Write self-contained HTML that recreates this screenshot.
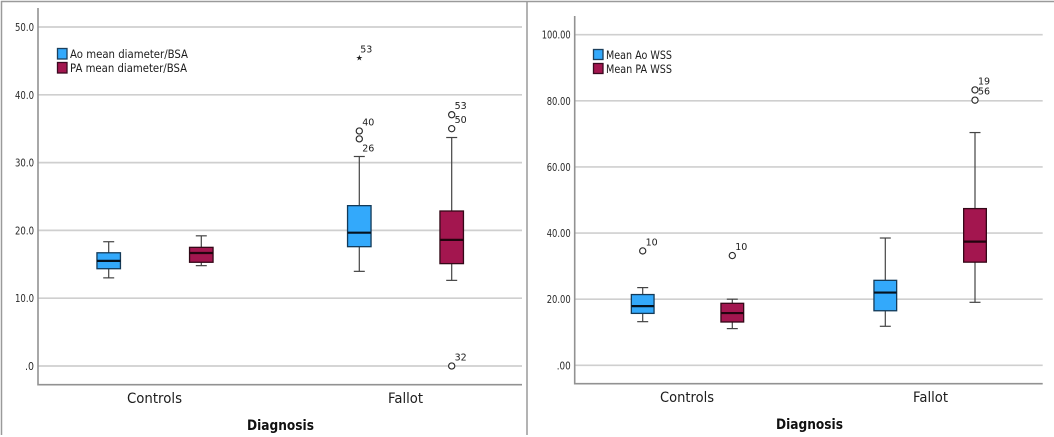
<!DOCTYPE html>
<html lang="en">
<head>
<meta charset="utf-8">
<title>Boxplots by diagnosis</title>
<style>
html,body{margin:0;padding:0;background:#fff;}
svg{display:block;font-family:"DejaVu Sans","Liberation Sans",sans-serif;filter:blur(0.3px);}
.tick{font-size:10.5px;fill:#2a2a2a;text-anchor:end;}
.cat{font-size:14px;fill:#1c1c1c;text-anchor:middle;}
.title{font-size:14px;font-weight:bold;fill:#111;text-anchor:middle;}
.leg{font-size:11.5px;fill:#1c1c1c;}
.out{font-size:9.5px;fill:#1c1c1c;text-anchor:middle;}
</style>
</head>
<body>
<svg id="root" width="1054" height="437" viewBox="0 0 1054 437" xmlns="http://www.w3.org/2000/svg">
  <rect width="1054" height="437" fill="#fff"/>
  <g stroke="#9a9a9a" stroke-width="1.5" fill="none">
    <path d="M1.5 435V1.5H1054"/>
    <path d="M527 1.5V435"/>
  </g>

  <g id="left-chart"></g>
  <g id="right-chart"></g>

  <g>
    <rect x="57.5" y="48.5" width="9.5" height="10.5" fill="#33a9fb" stroke="#1c3f5c" stroke-width="1.3"/>
    <text class="leg" x="70" y="58" textLength="118" lengthAdjust="spacingAndGlyphs">Ao mean diameter/BSA</text>
    <rect x="57.5" y="62.5" width="9.5" height="10.5" fill="#a3164f" stroke="#3a0a20" stroke-width="1.3"/>
    <text class="leg" x="70" y="72" textLength="117" lengthAdjust="spacingAndGlyphs">PA mean diameter/BSA</text>
  </g>
  <g>
    <rect x="593.5" y="49.5" width="9.5" height="10" fill="#33a9fb" stroke="#1c3f5c" stroke-width="1.3"/>
    <text class="leg" x="606" y="59" textLength="66" lengthAdjust="spacingAndGlyphs">Mean Ao WSS</text>
    <rect x="593.5" y="63.5" width="9.5" height="10" fill="#a3164f" stroke="#3a0a20" stroke-width="1.3"/>
    <text class="leg" x="606" y="73" textLength="66" lengthAdjust="spacingAndGlyphs">Mean PA WSS</text>
  </g>

  <text class="title" x="280.5" y="430" textLength="67" lengthAdjust="spacingAndGlyphs">Diagnosis</text>
  <text class="title" x="809.5" y="429" textLength="67" lengthAdjust="spacingAndGlyphs">Diagnosis</text>
</svg>
<script>
// Left chart: [lower whisker, Q1, median, Q3, upper whisker]
const diameterTicks = [0, 10, 20, 30, 40, 50];
const diameterTickLabels = ['.0', '10.0', '20.0', '30.0', '40.0', '50.0'];
const diameterCategories = ['Controls', 'Fallot'];
const diameterAoControls = [13.0, 14.35, 15.5, 16.7, 18.33];
const diameterPaControls = [14.8, 15.3, 16.67, 17.5, 19.2];
const diameterAoFallot = [13.96, 17.6, 19.66, 23.65, 30.9];
const diameterPaFallot = [12.63, 15.1, 18.6, 22.86, 33.7];
const diameterAoFallotOutliers = [34.66, 33.5];
const diameterAoFallotOutlierIds = ['40', '26'];
const diameterAoFallotExtremes = [45.6];
const diameterAoFallotExtremeIds = ['53'];
const diameterPaFallotOutliers = [37.06, 35.0, 0.0];
const diameterPaFallotOutlierIds = ['53', '50', '32'];

// Right chart: [lower whisker, Q1, median, Q3, upper whisker]
const wssTicks = [0, 20, 40, 60, 80, 100];
const wssTickLabels = ['.00', '20.00', '40.00', '60.00', '80.00', '100.00'];
const wssCategories = ['Controls', 'Fallot'];
const wssAoControls = [13.2, 15.7, 17.9, 21.4, 23.5];
const wssPaControls = [11.1, 13.1, 15.8, 18.75, 20.0];
const wssAoFallot = [11.8, 16.5, 22.0, 25.7, 38.5];
const wssPaFallot = [19.05, 31.2, 37.4, 47.4, 70.4];
const wssAoControlsOutliers = [34.6];
const wssAoControlsOutlierIds = ['10'];
const wssPaControlsOutliers = [33.2];
const wssPaControlsOutlierIds = ['10'];
const wssPaFallotOutliers = [83.3, 80.2];
const wssPaFallotOutlierIds = ['19', '56'];

const labelsBelowMarker = ['26'];
const SVG_NS = 'http://www.w3.org/2000/svg';
const BLUE = {fill: '#33a9fb', stroke: '#143a58', median: '#04121f'};
const MAROON = {fill: '#a3164f', stroke: '#340818', median: '#22040f'};

function make(parent, tag, attrs) {
  const el = document.createElementNS(SVG_NS, tag);
  for (const k in attrs) el.setAttribute(k, attrs[k]);
  parent.appendChild(el);
  return el;
}

function drawAxes(g, frame, ticks, tickLabels, categories, yScale) {
  ticks.forEach(function (t, i) {
    const grid = make(g, 'line', {x1: frame.left, x2: frame.right, y1: yScale(t), y2: yScale(t), stroke: '#cfcfcf', 'stroke-width': 1.7});
    
    
    const text = tickLabels[i];
    const digitCount = text.replace('.', '').length;
    const label = make(g, 'text', {class: 'tick', x: frame.left - 4, y: yScale(t) + 4, textLength: digitCount * 5 + 4, lengthAdjust: 'spacingAndGlyphs'});
    label.textContent = text;
    
    
  });
  const axis = make(g, 'path', {d: 'M' + frame.left + ' ' + frame.top + 'V' + frame.bottom + 'H' + frame.right, fill: 'none', stroke: '#929292', 'stroke-width': 1.6});
  
  
  categories.forEach(function (c, i) {
    const label = make(g, 'text', {class: 'cat', x: frame.catX[i], y: frame.catY, textLength: frame.catW[i], lengthAdjust: 'spacingAndGlyphs'});
    label.textContent = c;
    
    
  });
}

function drawBox(g, cx, width, stats, color, yScale) {
  const box = make(g, 'g', {});
  
  
  const capHalf = 5.5;
  const wh = {stroke: '#444', 'stroke-width': 1.2};
  make(box, 'line', Object.assign({x1: cx, x2: cx, y1: yScale(stats[4]), y2: yScale(stats[0])}, wh));
  make(box, 'line', Object.assign({x1: cx - capHalf, x2: cx + capHalf, y1: yScale(stats[4]), y2: yScale(stats[4])}, wh));
  make(box, 'line', Object.assign({x1: cx - capHalf, x2: cx + capHalf, y1: yScale(stats[0]), y2: yScale(stats[0])}, wh));
  make(box, 'rect', {x: cx - width / 2, y: yScale(stats[3]), width: width, height: yScale(stats[1]) - yScale(stats[3]), fill: color.fill, stroke: color.stroke, 'stroke-width': 1.3});
  make(box, 'line', {x1: cx - width / 2, x2: cx + width / 2, y1: yScale(stats[2]), y2: yScale(stats[2]), stroke: color.median, 'stroke-width': 2.2});
}

function drawOutlierLabel(g, cx, y, id) {
  const below = labelsBelowMarker.indexOf(id) >= 0;
  const label = make(g, 'text', {class: 'out', x: cx + 9, y: y + (below ? 9 : -9) + 3.5});
  label.textContent = id;
  
  
}

function drawOutliers(g, cx, values, ids, yScale) {
  values.forEach(function (v, i) {
    const y = yScale(v);
    const dot = make(g, 'circle', {cx: cx, cy: y, r: 3.1, fill: '#fff', stroke: '#2a2a2a', 'stroke-width': 1.15});
    
    
    drawOutlierLabel(g, cx, y, ids[i]);
  });
}

function drawExtremes(g, cx, values, ids, yScale) {
  values.forEach(function (v, i) {
    const y = yScale(v);
    const star = make(g, 'text', {x: cx, y: y + 3.5, 'text-anchor': 'middle', 'font-size': 8, fill: '#222'});
    star.textContent = '\u2605';
    
    
    const label = make(g, 'text', {class: 'out', x: cx + 7, y: y - 8 + 3.5});
    label.textContent = ids[i];
    
    
  });
}

// Diameter chart
const leftG = document.getElementById('left-chart');
const leftFrame = {left: 38, right: 522, top: 8, bottom: 384.7, catX: [154.5, 405.5], catY: 403, catW: [55, 35]};
function leftY(v) { return 366 - v * 6.78; }
drawAxes(leftG, leftFrame, diameterTicks, diameterTickLabels, diameterCategories, leftY);
drawBox(leftG, 108.7, 23.5, diameterAoControls, BLUE, leftY);
drawBox(leftG, 201.3, 23.5, diameterPaControls, MAROON, leftY);
drawBox(leftG, 359.3, 23.5, diameterAoFallot, BLUE, leftY);
drawBox(leftG, 451.7, 23.5, diameterPaFallot, MAROON, leftY);
drawOutliers(leftG, 359.3, diameterAoFallotOutliers, diameterAoFallotOutlierIds, leftY);
drawExtremes(leftG, 359.3, diameterAoFallotExtremes, diameterAoFallotExtremeIds, leftY);
drawOutliers(leftG, 451.7, diameterPaFallotOutliers, diameterPaFallotOutlierIds, leftY);

// WSS chart
const rightG = document.getElementById('right-chart');
const rightFrame = {left: 574.7, right: 1042.7, top: 16, bottom: 383.7, catX: [687, 930.5], catY: 402, catW: [54, 35]};
function rightY(v) { return 365.3 - v * 3.306; }
drawAxes(rightG, rightFrame, wssTicks, wssTickLabels, wssCategories, rightY);
drawBox(rightG, 642.7, 22.7, wssAoControls, BLUE, rightY);
drawBox(rightG, 732.3, 22.7, wssPaControls, MAROON, rightY);
drawBox(rightG, 885.3, 22.7, wssAoFallot, BLUE, rightY);
drawBox(rightG, 975, 22.7, wssPaFallot, MAROON, rightY);
drawOutliers(rightG, 642.7, wssAoControlsOutliers, wssAoControlsOutlierIds, rightY);
drawOutliers(rightG, 732.3, wssPaControlsOutliers, wssPaControlsOutlierIds, rightY);
drawOutliers(rightG, 975, wssPaFallotOutliers, wssPaFallotOutlierIds, rightY);
</script>
</body>
</html>
